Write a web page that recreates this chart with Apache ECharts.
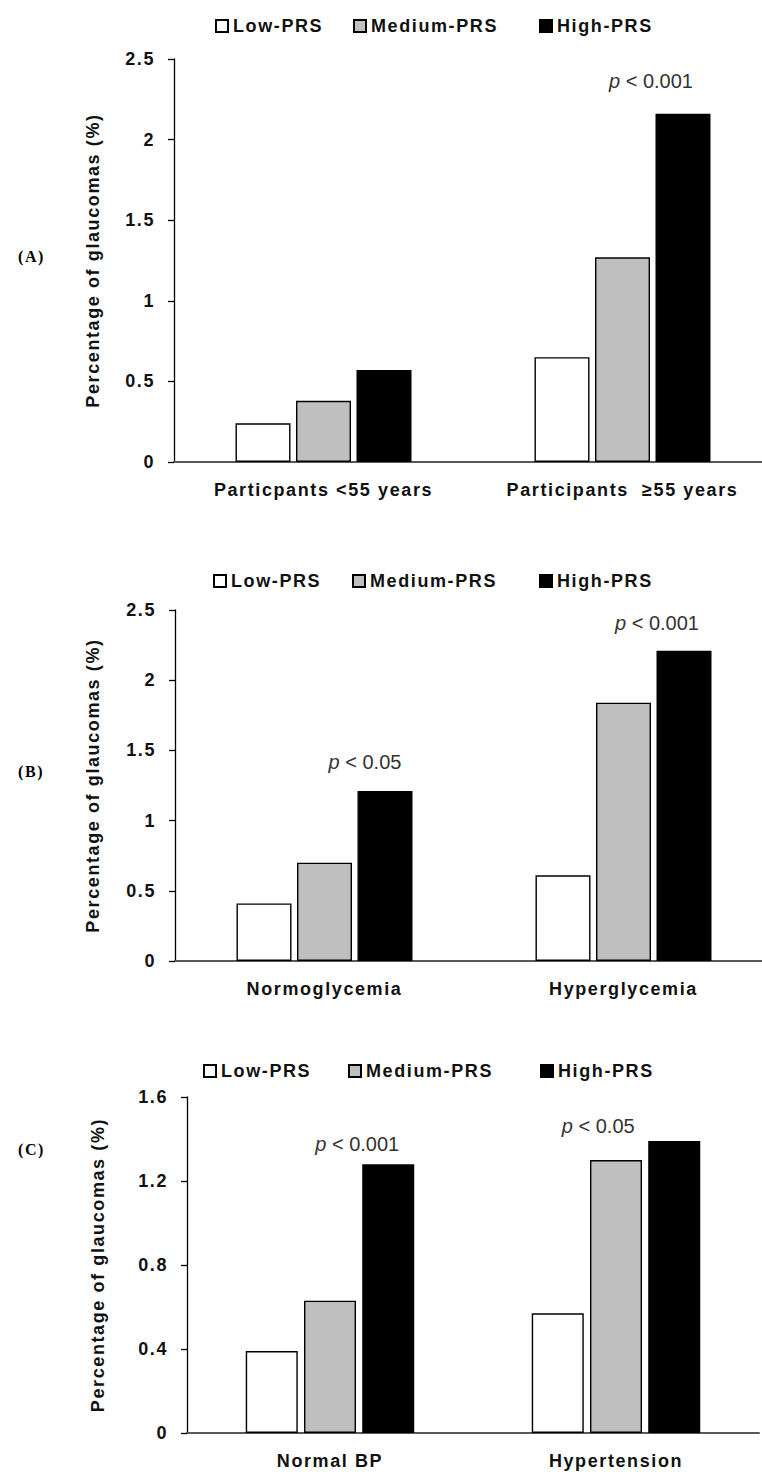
<!DOCTYPE html>
<html>
<head>
<meta charset="utf-8">
<title>Glaucoma by PRS</title>
<script src="https://cdn.jsdelivr.net/npm/echarts@6/dist/echarts.min.js"></script>
<style>
  html, body { margin: 0; padding: 0; background: #fff; }
  #chart { width: 762px; height: 1472px; }
  /* the original figure uses loosely spaced bold lettering */
  #chart text[style*="bold"], #chart text[font-weight="bold"] { letter-spacing: 1.6px; }
</style>
</head>
<body>
<div id="chart"></div>
<script>
// data
const seriesNames = ["Low-PRS", "Medium-PRS", "High-PRS"];

const categoriesA = ["Particpants <55 years", "Participants  ≥55 years"];
const lowA = [0.24, 0.65];
const mediumA = [0.38, 1.27];
const highA = [0.57, 2.16];
const pTextA = ["", "p < 0.001"];

const categoriesB = ["Normoglycemia", "Hyperglycemia"];
const lowB = [0.41, 0.61];
const mediumB = [0.70, 1.84];
const highB = [1.21, 2.21];
const pTextB = ["p < 0.05", "p < 0.001"];

const categoriesC = ["Normal BP", "Hypertension"];
const lowC = [0.39, 0.57];
const mediumC = [0.63, 1.30];
const highC = [1.28, 1.39];
const pTextC = ["p < 0.001", "p < 0.05"];

const yMaxA = 2.5, yStepA = 0.5;
const yMaxB = 2.5, yStepB = 0.5;
const yMaxC = 1.6, yStepC = 0.4;

const FONT = "'Liberation Sans', Arial, sans-serif";
const colors = ["#ffffff", "#bfbfbf", "#000000"];

// layout of each panel (pixels)
const panels = [
  {
    tag: "(A)", tagY: 257, cats: categoriesA, vals: [lowA, mediumA, highA], p: pTextA,
    max: yMaxA, step: yStepA,
    grid: { left: 174, top: 59, width: 598, height: 403 },
    legendY: 12, legendX: [210, 348, 534],
    barWidth: 55, barGap: "10%", nameGap: 72,
    pOffset: [[0, 0], [-32, -18]],
  },
  {
    tag: "(B)", tagY: 772, cats: categoriesB, vals: [lowB, mediumB, highB], p: pTextB,
    max: yMaxB, step: yStepB,
    grid: { left: 175, top: 610, width: 598, height: 351 },
    legendY: 567, legendX: [208, 347, 534],
    barWidth: 55, barGap: "10%", nameGap: 73,
    pOffset: [[-20, -14], [-27, -13]],
  },
  {
    tag: "(C)", tagY: 1150, cats: categoriesC, vals: [lowC, mediumC, highC], p: pTextC,
    max: yMaxC, step: yStepC,
    grid: { left: 187, top: 1097, width: 572, height: 336 },
    legendY: 1057, legendX: [198, 343, 535],
    barWidth: 52, barGap: "12%", nameGap: 80,
    pOffset: [[-31, -5], [-76, 0]],
  },
];

const chart = echarts.init(document.getElementById("chart"), null, { renderer: "svg" });

const grid = [], xAxis = [], yAxis = [], series = [], legend = [], graphic = [];

panels.forEach((pn, i) => {
  grid.push(Object.assign({ containLabel: false, outerBoundsMode: "none" }, pn.grid));

  xAxis.push({
    type: "category",
    gridIndex: i,
    data: pn.cats,
    axisLine: { lineStyle: { color: "#595959", width: 2 } },
    axisTick: { show: false },
    axisLabel: { color: "#111", fontFamily: FONT, fontWeight: "bold", fontSize: 18, margin: 19 },
    splitLine: { show: false },
  });

  yAxis.push({
    type: "value",
    gridIndex: i,
    min: 0,
    max: pn.max,
    interval: pn.step,
    name: "Percentage of glaucomas (%)",
    nameLocation: "middle",
    nameGap: pn.nameGap,
    nameTextStyle: { color: "#111", fontFamily: FONT, fontWeight: "bold", fontSize: 18 },
    axisLine: { show: true, lineStyle: { color: "#000", width: 1.3 } },
    axisTick: { show: true, length: 6, lineStyle: { color: "#000", width: 1.3 } },
    axisLabel: { color: "#111", fontFamily: FONT, fontWeight: "bold", fontSize: 18, margin: 19 },
    splitLine: { show: false },
  });

  seriesNames.forEach((name, k) => {
    const s = {
      name: name,
      type: "bar",
      xAxisIndex: i,
      yAxisIndex: i,
      barWidth: pn.barWidth,
      barGap: pn.barGap,
      itemStyle: { color: colors[k], borderColor: "#000", borderWidth: 1.4 },
      emphasis: { disabled: true },
      data: pn.vals[k].slice(),
    };
    if (k === 2) {
      // significance text above the high-PRS bars
      s.data = pn.vals[k].map((v, j) => ({
        value: v,
        label: {
          show: pn.p[j] !== "",
          position: "top",
          offset: pn.pOffset[j],
          formatter: () => "{i|p}{n|" + pn.p[j].slice(1) + "}",
          rich: {
            i: { fontFamily: FONT, fontStyle: "italic", fontSize: 20, color: "#333" },
            n: { fontFamily: FONT, fontSize: 20, color: "#333" },
          },
        },
      }));
    }
    series.push(s);

    legend.push({
      data: [name],
      left: pn.legendX[k],
      top: pn.legendY,
      icon: "rect",
      itemWidth: 12,
      itemHeight: 12,
      selectedMode: false,
      textStyle: { color: "#111", fontFamily: FONT, fontWeight: "bold", fontSize: 18 },
    });
  });

  graphic.push({
    type: "text",
    left: 18,
    top: pn.tagY - 9,
    style: {
      text: pn.tag,
      fill: "#000",
      font: "bold 16px 'Liberation Serif', 'Times New Roman', serif",
    },
  });
});

chart.setOption({
  backgroundColor: "#fff",
  animation: false,
  grid: grid,
  xAxis: xAxis,
  yAxis: yAxis,
  legend: legend,
  graphic: graphic,
  series: series,
});
</script>
</body>
</html>
